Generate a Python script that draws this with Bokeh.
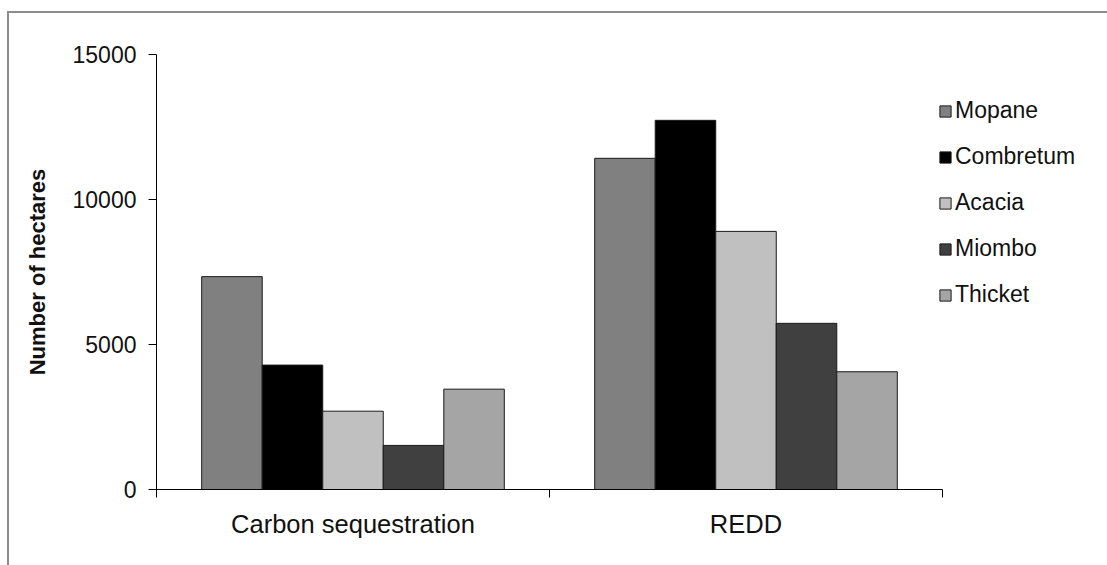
import numpy as np
from bokeh.plotting import figure
from bokeh.models import Range1d, FixedTicker, Legend, LegendItem, ColumnDataSource
from bokeh.embed import file_html
from bokeh.resources import INLINE

# ---- data ----
categories = ["Carbon sequestration", "REDD"]
series = ["Mopane", "Combretum", "Acacia", "Miombo", "Thicket"]
mopane = [7340, 11420]
combretum = [4290, 12730]
acacia = [2700, 8900]
miombo = [1520, 5730]
thicket = [3460, 4060]
y_ticks = [0, 5000, 10000, 15000]
colors = ["#808080", "#000000", "#c0c0c0", "#404040", "#a5a5a5"]

values = [mopane, combretum, acacia, miombo, thicket]

FONT = "Liberation Sans"

n = len(categories)
px_per_cat = 393
frame_w = 951
p = figure(
    output_backend="svg", toolbar_location=None,
    frame_width=frame_w, frame_height=435,
    min_border_left=147, min_border_right=0,
    min_border_top=41, min_border_bottom=76,
    x_range=Range1d(0, frame_w / px_per_cat), y_range=Range1d(0, 15000),
)
p.styles = {"margin-left": "7px", "margin-top": "11px",
            "border-left": "2px solid #8c8c8c", "border-top": "2px solid #8c8c8c"}
p.outline_line_color = None
p.grid.grid_line_color = None
p.background_fill_color = "white"
p.border_fill_color = "white"

bar_w = 0.154
centers = np.arange(n) + 0.5
items = []
for k, (name, vals, col) in enumerate(zip(series, values, colors)):
    src = ColumnDataSource(dict(x=centers + (k - 2) * bar_w, top=vals))
    r = p.vbar(x="x", top="top", width=bar_w, bottom=0, source=src,
               fill_color=col, line_color="#1a1a1a", line_width=1)
    items.append(LegendItem(label=name, renderers=[r]))

legend = Legend(items=items, location=(782, 181))
legend.border_line_color = None
legend.background_fill_alpha = 0
legend.padding = 0
legend.margin = 0
legend.glyph_width = 14
legend.glyph_height = 14
legend.label_standoff = 3
legend.label_height = 26
legend.spacing = 19
legend.label_text_font = FONT
legend.label_text_font_size = "23px"
legend.label_text_color = "#111111"
p.add_layout(legend, "center")

# y axis
ya = p.yaxis[0]
ya.ticker = FixedTicker(ticks=y_ticks)
ya.minor_tick_line_color = None
ya.major_tick_in = 0
ya.major_tick_out = 8
ya.major_label_standoff = 12
ya.major_label_text_font = FONT
ya.major_label_text_font_size = "23px"
ya.major_label_text_color = "#111111"
ya.axis_line_color = "black"
ya.major_tick_line_color = "black"
ya.axis_label = "Number of hectares"
ya.axis_label_text_font = FONT
ya.axis_label_text_font_size = "22px"
ya.axis_label_text_font_style = "bold"
ya.axis_label_text_color = "#111111"
ya.axis_label_standoff = 20

# x axis
xa = p.xaxis[0]
xa.bounds = (0, n)
xa.ticker = FixedTicker(ticks=list(centers), minor_ticks=list(range(n + 1)))
xa.major_label_overrides = {float(c): cat for c, cat in zip(centers, categories)}
xa.major_tick_line_color = None
xa.major_tick_in = 0
xa.major_tick_out = 0
xa.minor_tick_in = 0
xa.minor_tick_out = 8
xa.minor_tick_line_color = "black"
xa.major_label_standoff = 12
xa.major_label_text_font = FONT
xa.major_label_text_font_size = "25.5px"
xa.major_label_text_color = "#111111"
xa.axis_line_color = "black"

open("out.html", "w").write(file_html(p, INLINE))
